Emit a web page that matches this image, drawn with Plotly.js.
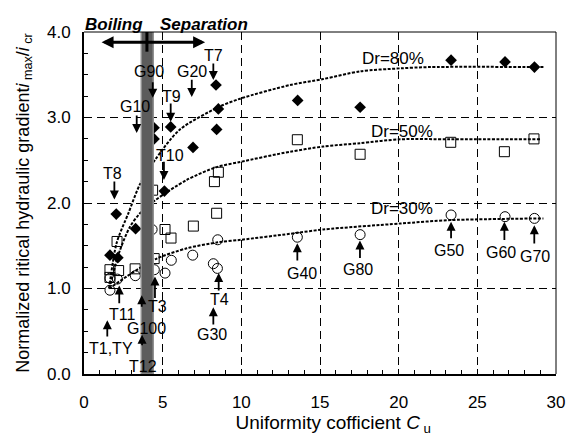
<!DOCTYPE html>
<html><head><meta charset="utf-8">
<script src="https://cdn.plot.ly/plotly-3.0.1.min.js"></script>
<style>html,body{margin:0;padding:0;background:#fff}#chart{width:575px;height:441px}</style>
</head><body><div id="chart"></div>
<script>
// ---- measured data (uniformity coefficient Cu vs normalized critical gradient) ----
const dr80_cu    = [1.65, 2.15, 2.05, 3.28, 4.45, 4.45, 5.11, 5.51, 6.93, 8.43, 8.54, 8.39, 13.58, 17.55, 23.33, 26.76, 28.63];
const dr80_ratio = [1.39, 1.36, 1.87, 1.70, 2.88, 2.75, 2.14, 2.89, 2.65, 2.86, 3.10, 3.38, 3.20, 3.12, 3.67, 3.65, 3.59];

const dr50_cu    = [1.65, 1.65, 2.20, 2.10, 3.25, 4.46, 4.36, 5.15, 5.53, 6.95, 8.43, 8.29, 8.54, 13.56, 17.55, 23.31, 26.72, 28.60];
const dr50_ratio = [1.22, 1.13, 1.21, 1.55, 1.23, 1.35, 2.15, 1.69, 1.59, 1.73, 1.88, 2.25, 2.36, 2.74, 2.57, 2.71, 2.60, 2.75];

const dr30_cu    = [1.65, 1.65, 2.12, 3.26, 4.47, 4.33, 5.15, 5.55, 6.91, 8.22, 8.48, 8.50, 13.56, 17.55, 23.33, 26.76, 28.63];
const dr30_ratio = [0.98, 1.12, 1.11, 1.15, 1.22, 1.69, 1.18, 1.33, 1.39, 1.29, 1.235, 1.57, 1.60, 1.63, 1.86, 1.84, 1.82];

// trend curves
const fit80_cu    = [1.6, 2.07, 2.82, 3.56, 4.5, 6.1, 8.54, 9.92, 13.1, 15.2, 17.55, 20.1, 22.0, 29.2];
const fit80_ratio = [1.0, 1.53, 1.88, 2.22, 2.50, 2.86, 3.12, 3.22, 3.38, 3.45, 3.54, 3.575, 3.59, 3.59];
const fit50_cu    = [1.6, 2.29, 2.92, 3.56, 4.51, 6.53, 8.43, 9.92, 13.1, 15.2, 17.55, 20.1, 23.3, 29.0];
const fit50_ratio = [1.0, 1.45, 1.72, 1.88, 2.03, 2.27, 2.42, 2.48, 2.60, 2.66, 2.70, 2.745, 2.745, 2.745];
const fit30_cu    = [1.6, 2.71, 3.56, 4.62, 6.53, 8.5, 10.0, 13.1, 15.2, 20.1, 23.3, 29.2];
const fit30_ratio = [1.0, 1.14, 1.24, 1.35, 1.47, 1.54, 1.57, 1.64, 1.69, 1.76, 1.80, 1.82];

const seriesNames = ['Dr=80%', 'Dr=50%', 'Dr=30%'];
const xTickVals = [0, 5, 10, 15, 20, 25, 30];
const yTickVals = [0, 1, 2, 3, 4];
const zoneNames = ['Boiling', 'Separation'];

// sample labels: [text, labelX, labelY, arrowX, headY, tailY]
const sampleLabels = [
  ['T7',    8.20, 3.73,  8.22, 3.44, 3.65],
  ['G20',   6.85, 3.54,  6.85, 3.24, 3.46],
  ['G90',   4.13, 3.54,  4.37, 3.23, 3.43],
  ['T9',    5.57, 3.24,  5.51, 2.95, 3.18],
  ['G10',   3.24, 3.13,  3.35, 2.82, 3.04],
  ['T10',   5.47, 2.56,  5.08, 2.27, 2.50],
  ['T8',    1.82, 2.35,  1.93, 2.04, 2.27],
  ['T11',   2.40, 0.70,  2.24, 1.035, 0.81],
  ['T3',    4.64, 0.79,  4.51, 1.14, 0.87],
  ['G100',  3.99, 0.53,  3.67, 0.92, 0.77],
  ['T1,TY', 1.70, 0.30,  1.48, 0.63, 0.42],
  ['T12',   3.73, 0.09,  3.69, 0.46, 0.32],
  ['T4',    8.64, 0.87,  8.56, 1.18, 0.96],
  ['G30',   8.15, 0.46,  8.22, 0.78, 0.56],
  ['G40',  13.86, 1.18, 13.56, 1.53, 1.31],
  ['G80',  17.43, 1.22, 17.54, 1.56, 1.34],
  ['G50',  23.22, 1.44, 23.33, 1.78, 1.57],
  ['G60',  26.49, 1.42, 26.72, 1.78, 1.55],
  ['G70',  28.67, 1.38, 28.62, 1.74, 1.51]
];

const FONT = 'Liberation Sans, Arial, sans-serif';
const lineStyle = {color: '#000', width: 2, dash: '3px,1.5px', shape: 'spline', smoothing: 0.8};

const traces = [
  {x: fit80_cu, y: fit80_ratio, mode: 'lines', line: lineStyle, name: seriesNames[0] + ' fit', hoverinfo: 'skip'},
  {x: fit50_cu, y: fit50_ratio, mode: 'lines', line: lineStyle, name: seriesNames[1] + ' fit', hoverinfo: 'skip'},
  {x: fit30_cu, y: fit30_ratio, mode: 'lines', line: lineStyle, name: seriesNames[2] + ' fit', hoverinfo: 'skip'},
  {x: dr80_cu, y: dr80_ratio, mode: 'markers', name: seriesNames[0],
   marker: {symbol: 'diamond', size: 9, color: '#000', line: {width: 0}}},
  {x: dr50_cu, y: dr50_ratio, mode: 'markers', name: seriesNames[1],
   marker: {symbol: 'square-open', size: 10, color: '#000', line: {width: 1}}},
  {x: dr30_cu, y: dr30_ratio, mode: 'markers', name: seriesNames[2],
   marker: {symbol: 'circle-open', size: 10, color: '#000', line: {width: 1}}}
];

const annotations = [];
sampleLabels.forEach(([t, lx, ly, ax, hy, ty]) => {
  annotations.push({x: lx, y: ly, xref: 'x', yref: 'y', text: t, showarrow: false,
    xanchor: 'center', yanchor: 'middle', font: {family: FONT, size: 16, color: '#000'}});
  annotations.push({x: ax, y: hy, ax: ax, ay: ty, xref: 'x', yref: 'y', axref: 'x', ayref: 'y',
    text: '', showarrow: true, arrowhead: 2, arrowsize: 1, arrowwidth: 1.8, arrowcolor: '#000', standoff: 0});
});
// Dr labels
[[seriesNames[0], 19.66, 3.69], [seriesNames[1], 20.2, 2.84], [seriesNames[2], 20.2, 1.93]].forEach(([t, x, y]) => {
  annotations.push({x: x, y: y, xref: 'x', yref: 'y', text: t, showarrow: false,
    font: {family: FONT, size: 17, color: '#000'}});
});
// Boiling / Separation (above the plot area)
annotations.push({x: 1.91, y: 1.021, xref: 'x', yref: 'paper', text: '<b><i>' + zoneNames[0] + '</i></b>', showarrow: false,
  yanchor: 'middle', font: {family: FONT, size: 17, color: '#000'}});
annotations.push({x: 7.63, y: 1.021, xref: 'x', yref: 'paper', text: '<b><i>' + zoneNames[1] + '</i></b>', showarrow: false,
  yanchor: 'middle', font: {family: FONT, size: 17, color: '#000'}});
// double-headed arrow
annotations.push({x: 7.7, y: 3.88, ax: 1.02, ay: 3.88, xref: 'x', yref: 'y', axref: 'x', ayref: 'y',
  text: '', showarrow: true, arrowside: 'end+start', arrowhead: 2, startarrowhead: 2,
  arrowsize: 0.8, startarrowsize: 0.8, arrowwidth: 3, arrowcolor: '#000', standoff: 0, startstandoff: 0});

const shapes = [
  // boundary band
  {type: 'rect', xref: 'x', yref: 'y', x0: 3.64, x1: 4.40, y0: 0, y1: 4.02,
   fillcolor: '#5c5c5c', line: {color: '#8f8f8f', width: 1.5}, layer: 'above'},
  {type: 'line', xref: 'x', yref: 'y', x0: 4.0, x1: 4.0, y0: 4.0, y1: 3.77,
   line: {color: '#000', width: 3}, layer: 'above'},
  // thin top / right frame
  {type: 'line', xref: 'paper', yref: 'paper', x0: 0, x1: 1, y0: 1, y1: 1, line: {color: '#000', width: 1}},
  {type: 'line', xref: 'paper', yref: 'paper', x0: 1, x1: 1, y0: 0, y1: 1, line: {color: '#000', width: 1}}
];

const layout = {
  width: 575, height: 441,
  margin: {l: 84, r: 19, t: 32, b: 67},
  paper_bgcolor: '#fff', plot_bgcolor: '#fff',
  showlegend: false,
  font: {family: FONT, color: '#000'},
  xaxis: {
    range: [0, 30], tickvals: xTickVals, ticks: 'inside', ticklen: 5, tickwidth: 1, tickcolor: '#000',
    showline: true, linewidth: 2, linecolor: '#000', mirror: false,
    showgrid: true, gridcolor: '#000', gridwidth: 1, griddash: '8px,5px',
    zeroline: false, tickfont: {family: FONT, size: 17}, ticklabelstandoff: 12,
    minor: {dtick: 1, ticks: 'inside', ticklen: 4, tickcolor: '#000', showgrid: false},
    title: {text: '&nbsp;&nbsp;&nbsp;&nbsp;&nbsp;Uniformity cofficient <i>C</i><sub> u</sub>', font: {family: FONT, size: 19}, standoff: 3}
  },
  yaxis: {
    range: [0, 4], tickvals: yTickVals, tickformat: '.1f', ticks: 'inside', ticklen: 5, tickwidth: 1, tickcolor: '#000',
    showline: true, linewidth: 2, linecolor: '#000', mirror: false,
    showgrid: true, gridcolor: '#000', gridwidth: 1, griddash: '8px,5px',
    zeroline: false, tickfont: {family: FONT, size: 17}, ticklabelstandoff: 8,
    minor: {dtick: 0.25, ticks: 'inside', ticklen: 4, tickcolor: '#000', showgrid: false},
    title: {text: 'Normalized ritical hydraulic gradient<i>i</i><sub> max</sub>/<i>i</i><sub> cr</sub>', font: {family: FONT, size: 18}, standoff: 13}
  },
  annotations: annotations,
  shapes: shapes
};

Plotly.newPlot('chart', traces, layout, {displayModeBar: false, staticPlot: true});
</script>
</body></html>
